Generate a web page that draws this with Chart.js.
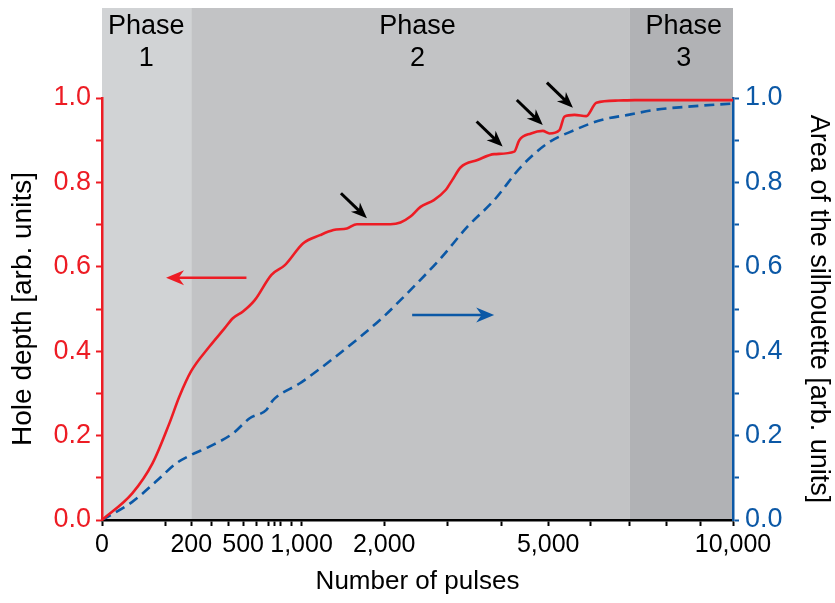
<!DOCTYPE html>
<html>
<head>
<meta charset="utf-8">
<script src="https://cdn.jsdelivr.net/npm/chart.js@4.4.1/dist/chart.umd.min.js"></script>
<style>
  html, body { margin: 0; padding: 0; background: #fff; }
  canvas { display: block; }
</style>
</head>
<body>
<canvas id="pulseChart" width="835" height="603"></canvas>
<script>
// hole depth (red, left axis) vs number of pulses
const depthPulses = [0, 23, 64, 114, 150, 199, 290, 377, 430, 499, 586, 721, 840, 1017, 1194, 1345, 1506, 1632, 2089, 2237, 2390, 2548, 2766, 2966, 3083, 3232, 3541, 3863, 4269, 4373, 4623, 4880, 5028, 5256, 5372, 5608, 5891, 6138, 6691, 7130, 8238, 10000];
const depthValues = [0, 0.063, 0.134, 0.229, 0.292, 0.352, 0.411, 0.454, 0.478, 0.494, 0.521, 0.581, 0.604, 0.656, 0.675, 0.687, 0.691, 0.701, 0.701, 0.705, 0.719, 0.742, 0.758, 0.782, 0.806, 0.836, 0.853, 0.867, 0.873, 0.900, 0.916, 0.922, 0.916, 0.924, 0.956, 0.960, 0.957, 0.989, 0.994, 0.995, 0.995, 0.995];

// silhouette area (blue dashed, right axis)
const areaPulses = [0, 23, 73, 138, 199, 290, 430, 548, 679, 735, 984, 1345, 1675, 1992, 2237, 2880, 3354, 3863, 4409, 4991, 5608, 6263, 6954, 7679, 8539, 10000];
const areaValues = [0, 0.043, 0.091, 0.134, 0.154, 0.174, 0.205, 0.241, 0.261, 0.284, 0.324, 0.383, 0.434, 0.482, 0.521, 0.620, 0.695, 0.758, 0.837, 0.893, 0.924, 0.948, 0.960, 0.972, 0.979, 0.987];

const xMajorTicks = [0, 200, 500, 1000, 2000, 5000, 10000];
const xMinorTicks = [100, 300, 400, 600, 700, 750, 800, 900, 3000, 4000, 6000, 7000, 8000, 9000];

const phaseNames = ['1', '2', '3'];
const phaseFrom = [0, 200, 7000];
const phaseTo = [200, 7000, 10000];
const phaseLabelAt = [49, 2500, 8500];
const phaseColors = ['#d1d3d5', '#c2c3c5', '#b1b2b5'];

// black arrows pointing at the steps of the red curve (tip position)
const stepArrowPulses = [1763, 4031, 4880, 5570];
const stepArrowValues = [0.715, 0.885, 0.936, 0.977];

const RED = '#ed1c24';
const BLUE = '#0b58a6';

Chart.defaults.font.family = '"Liberation Sans", Arial, Helvetica, sans-serif';
Chart.defaults.color = '#000';

const sq = n => Math.sqrt(n);

function drawArrow(ctx, x1, y1, x2, y2, color, lw, headLen, headW) {
  const ang = Math.atan2(y2 - y1, x2 - x1);
  ctx.save();
  ctx.strokeStyle = color;
  ctx.fillStyle = color;
  ctx.lineWidth = lw;
  ctx.beginPath();
  ctx.moveTo(x1, y1);
  ctx.lineTo(x2 - Math.cos(ang) * headLen * 0.6, y2 - Math.sin(ang) * headLen * 0.6);
  ctx.stroke();
  ctx.translate(x2, y2);
  ctx.rotate(ang);
  ctx.beginPath();
  ctx.moveTo(0, 0);
  ctx.lineTo(-headLen, -headW / 2);
  ctx.lineTo(-headLen * 0.7, 0);
  ctx.lineTo(-headLen, headW / 2);
  ctx.closePath();
  ctx.fill();
  ctx.restore();
}

const phasePlugin = {
  id: 'phases',
  beforeDraw(chart) {
    const { ctx, chartArea, scales } = chart;
    const x = scales.x;
    ctx.save();
    phaseFrom.forEach((from, i) => {
      const l = x.getPixelForValue(sq(from));
      const r = x.getPixelForValue(sq(phaseTo[i]));
      ctx.fillStyle = phaseColors[i];
      ctx.fillRect(l, 8, r - l, chartArea.bottom - 8);
    });
    ctx.fillStyle = '#000';
    ctx.font = '27px "Liberation Sans", Arial, sans-serif';
    ctx.textAlign = 'center';
    ctx.textBaseline = 'middle';
    phaseNames.forEach((name, i) => {
      const cx = x.getPixelForValue(sq(phaseLabelAt[i]));
      ctx.fillText('Phase', cx, 27);
      ctx.fillText(name, cx, 59);
    });
    ctx.restore();
  },
  afterDatasetsDraw(chart) {
    const { ctx, scales } = chart;
    const x = scales.x, y = scales.y, y2 = scales.y2;
    stepArrowPulses.forEach((n, i) => {
      const tx = x.getPixelForValue(sq(n));
      const ty = y.getPixelForValue(stepArrowValues[i]);
      drawArrow(ctx, tx - 26, ty - 25, tx, ty, '#000', 3, 16, 13);
    });
    // axis pointers
    const ry = y.getPixelForValue(0.574);
    drawArrow(ctx, x.getPixelForValue(sq(524)), ry, x.getPixelForValue(sq(103)), ry, RED, 2.5, 18, 15);
    const by = y2.getPixelForValue(0.486);
    drawArrow(ctx, x.getPixelForValue(sq(2416)), by, x.getPixelForValue(sq(3863)), by, BLUE, 2.5, 18, 15);
  }
};

new Chart(document.getElementById('pulseChart'), {
  type: 'line',
  data: {
    datasets: [
      {
        label: 'Hole depth',
        data: depthPulses.map((n, i) => ({ x: sq(n), y: depthValues[i] })),
        yAxisID: 'y',
        borderColor: RED,
        borderWidth: 2.6,
        pointRadius: 0,
        cubicInterpolationMode: 'monotone',
        fill: false
      },
      {
        label: 'Area of the silhouette',
        data: areaPulses.map((n, i) => ({ x: sq(n), y: areaValues[i] })),
        yAxisID: 'y2',
        borderColor: BLUE,
        borderWidth: 2.6,
        borderDash: [10, 6],
        pointRadius: 0,
        cubicInterpolationMode: 'monotone',
        fill: false
      }
    ]
  },
  options: {
    responsive: false,
    animation: false,
    devicePixelRatio: 1,
    layout: { padding: { top: 98, left: 0, right: 0, bottom: 0 } },
    plugins: { legend: { display: false }, tooltip: { enabled: false } },
    scales: {
      x: {
        type: 'linear',
        min: 0,
        max: 100,
        afterBuildTicks: s => {
          s.ticks = [...xMajorTicks, ...xMinorTicks].sort((a, b) => a - b).map(n => ({ value: sq(n) }));
        },
        afterFit: s => { s.height = 83; },
        ticks: {
          autoSkip: false,
          maxRotation: 0,
          color: '#000',
          font: { size: 25 },
          padding: 4,
          callback: v => {
            const n = xMajorTicks.find(m => Math.abs(sq(m) - v) < 1e-6);
            return n === undefined ? '' : n.toLocaleString('en-US');
          }
        },
        grid: { drawOnChartArea: false, color: '#000', tickLength: 6, tickWidth: 2 },
        border: { color: '#000', width: 2.5 },
        title: { display: true, text: 'Number of pulses', color: '#000', font: { size: 26 }, padding: { top: 2, bottom: 6 } }
      },
      y: {
        position: 'left',
        min: 0,
        max: 1,
        afterFit: s => { s.width = 102; },
        ticks: {
          stepSize: 0.1,
          autoSkip: false,
          color: RED,
          font: { size: 27 },
          padding: 5,
          callback: v => (Math.round(v * 10) % 2 === 0 ? v.toFixed(1) : '')
        },
        grid: { drawOnChartArea: false, color: RED, tickLength: 6, tickWidth: 2 },
        border: { color: RED, width: 2.5 },
        title: { display: true, text: 'Hole depth [arb. units]', color: '#000', font: { size: 28 }, padding: { top: 6, bottom: 0 } }
      },
      y2: {
        position: 'right',
        min: 0,
        max: 1,
        afterFit: s => { s.width = 102; },
        ticks: {
          stepSize: 0.1,
          autoSkip: false,
          color: BLUE,
          font: { size: 27 },
          padding: 6,
          callback: v => (Math.round(v * 10) % 2 === 0 ? v.toFixed(1) : '')
        },
        grid: { drawOnChartArea: false, color: BLUE, tickLength: 6, tickWidth: 2 },
        border: { color: BLUE, width: 2.5 },
        title: { display: true, text: 'Area of the silhouette [arb. units]', color: '#000', font: { size: 27 }, padding: { top: 0, bottom: 0 } }
      }
    }
  },
  plugins: [phasePlugin]
});
</script>
</body>
</html>
